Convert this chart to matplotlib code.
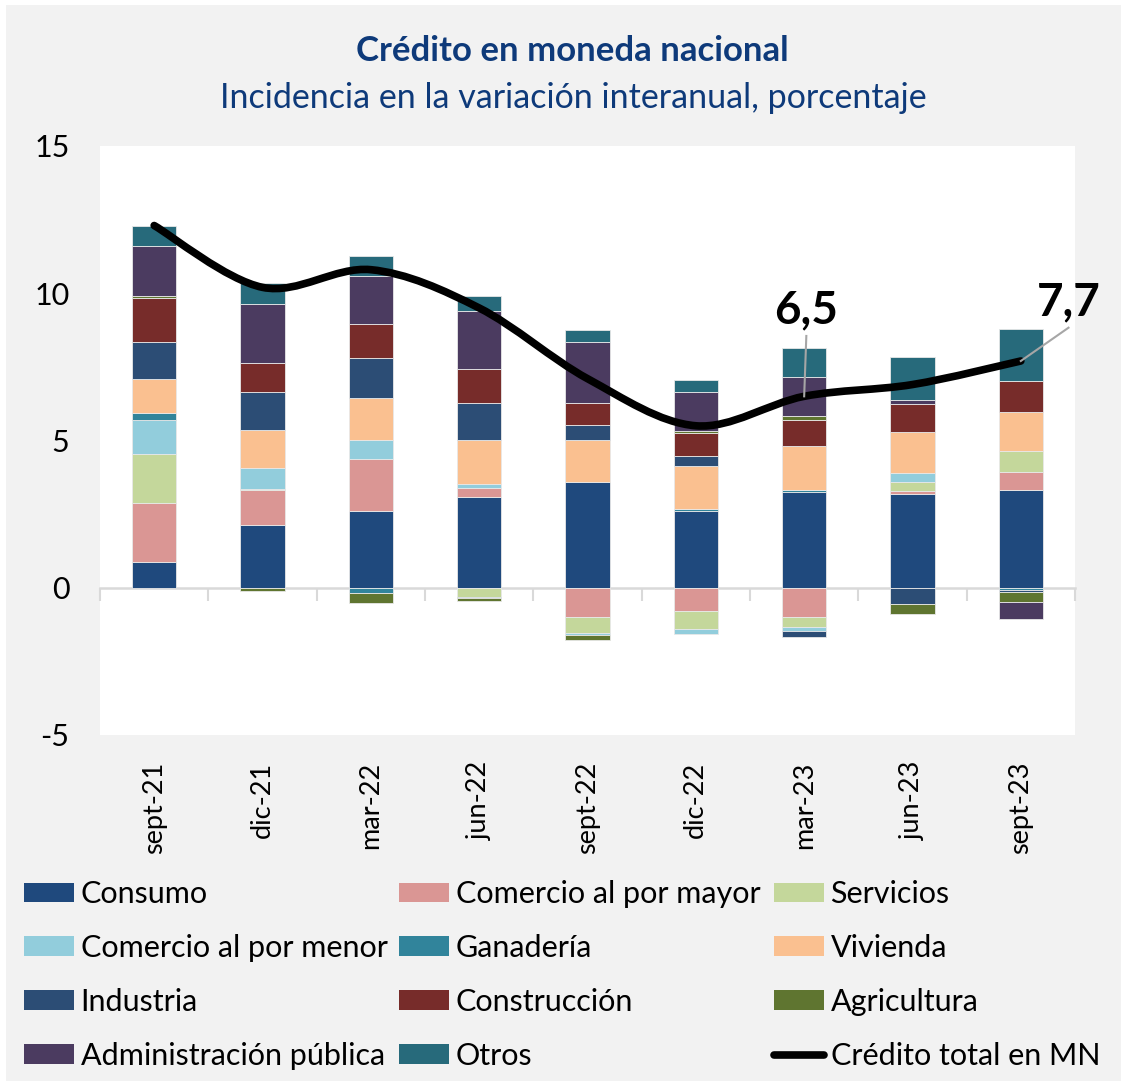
import numpy as np
import matplotlib
matplotlib.use('Agg')
import matplotlib.pyplot as plt
from matplotlib.path import Path
from matplotlib.patches import PathPatch, Rectangle, Patch
from matplotlib.lines import Line2D

plt.rcParams['font.family'] = ['Lato', 'DejaVu Sans']

# Fechas y series (incidencia, puntos porcentuales)
fechas = ['sept-21', 'dic-21', 'mar-22', 'jun-22', 'sept-22', 'dic-22', 'mar-23', 'jun-23', 'sept-23']

consumo = [0.89, 2.14, 2.61, 3.07, 3.58, 2.61, 3.24, 3.17, 3.33]
comercio_mayor = [2.00, 1.18, 1.75, 0.33, -0.98, -0.79, -1.00, 0.10, 0.59]
servicios = [1.64, 0.05, 0.00, -0.32, -0.54, -0.60, -0.33, 0.32, 0.72]
comercio_menor = [1.15, 0.71, 0.65, 0.12, -0.08, -0.17, -0.15, 0.29, 0.00]
ganaderia = [0.24, 0.00, -0.17, -0.03, 0.00, 0.07, 0.08, 0.00, -0.08]
vivienda = [1.16, 1.28, 1.42, 1.51, 1.43, 1.46, 1.48, 1.42, 1.33]
industria = [1.25, 1.29, 1.37, 1.26, 0.51, 0.32, -0.20, -0.54, -0.05]
construccion = [1.52, 0.99, 1.17, 1.13, 0.74, 0.81, 0.91, 0.94, 1.06]
agricultura = [0.06, -0.10, -0.36, -0.10, -0.18, 0.06, 0.12, -0.36, -0.36]
adm_publica = [1.68, 1.98, 1.61, 1.98, 2.08, 1.30, 1.33, 0.14, -0.57]
otros = [0.70, 0.72, 0.70, 0.52, 0.42, 0.43, 0.98, 1.47, 1.75]
credito_total = [12.3, 10.2, 10.8, 9.5, 7.1, 5.5, 6.5, 6.9, 7.7]

series = [
    ('Consumo', consumo, '#1f497d'),
    ('Comercio al por mayor', comercio_mayor, '#da9694'),
    ('Servicios', servicios, '#c4d79b'),
    ('Comercio al por menor', comercio_menor, '#92cddc'),
    ('Ganadería', ganaderia, '#31849b'),
    ('Vivienda', vivienda, '#fac090'),
    ('Industria', industria, '#2c4d75'),
    ('Construcción', construccion, '#772c2a'),
    ('Agricultura', agricultura, '#5f7530'),
    ('Administración pública', adm_publica, '#4b3b60'),
    ('Otros', otros, '#276a7b'),
]

W, H = 1127, 1081
fig = plt.figure(figsize=(W / 100, H / 100), dpi=100, facecolor='white')
fig.patches.append(Rectangle((6 / W, 0), 1 - 12 / W, 1 - 5 / H, transform=fig.transFigure,
                             facecolor='#f2f2f2', edgecolor='none', zorder=-10))

ax = fig.add_axes([100 / W, 1 - 735 / H, 975 / W, 589 / H])
ax.set_facecolor('white')

x = np.arange(len(fechas))
pos_bottom = np.zeros(len(fechas))
neg_bottom = np.zeros(len(fechas))
handles = {}
for name, vals, color in series:
    v = np.array(vals)
    bottom = np.where(v >= 0, pos_bottom, neg_bottom)
    keep = v != 0
    ax.bar(x[keep], v[keep], bottom=bottom[keep], width=0.41, color=color,
           edgecolor='#e8e8e8', linewidth=0.6, zorder=2)
    pos_bottom += np.clip(v, 0, None)
    neg_bottom += np.clip(v, None, 0)
    handles[name] = Patch(facecolor=color, edgecolor='none')

# smoothed line (Excel style): Catmull-Rom as cubic Bezier
yt = np.array(credito_total, dtype=float)
pts = np.column_stack([x, yt])
ext = np.vstack([pts[0], pts, pts[-1]])
verts = [tuple(pts[0])]
codes = [Path.MOVETO]
for i in range(len(pts) - 1):
    p0, p1, p2, p3 = ext[i], ext[i + 1], ext[i + 2], ext[i + 3]
    c1 = p1 + (p2 - p0) / 6
    c2 = p2 - (p3 - p1) / 6
    verts += [tuple(c1), tuple(c2), tuple(p2)]
    codes += [Path.CURVE4] * 3
ax.add_patch(PathPatch(Path(verts, codes), facecolor='none', edgecolor='black',
                       linewidth=5.5, capstyle='round', zorder=4))
handles['Crédito total en MN'] = Line2D([], [], color='black', linewidth=5.5, solid_capstyle='round')

# labels for the last two points
for i, dx, dy in [(6, 0.02, 2.05), (8, 0.44, 1.13)]:
    ax.plot([x[i], x[i] + dx], [yt[i], yt[i] + dy], color='#a6a6a6', lw=1.5, zorder=5, clip_on=False)
    ax.text(x[i] + dx, yt[i] + dy + 0.15, f'{yt[i]:.1f}'.replace('.', ','), ha='center', va='bottom',
            fontsize=33, fontweight='bold', color='black', zorder=6, clip_on=False)

ax.set_xlim(-0.5, len(fechas) - 0.5)
ax.set_ylim(-5, 15)
ax.set_yticks([-5, 0, 5, 10, 15])
ax.set_yticklabels(['-5', '0', '5', '10', '15'])
ax.tick_params(axis='y', length=0, pad=22, labelsize=22)
ax.set_xticks(x)
ax.set_xticklabels(fechas, rotation=90, fontsize=19.5)
ax.tick_params(axis='x', length=0, pad=19)
for s in ax.spines.values():
    s.set_visible(False)

# zero axis with tick marks between categories
sec = ax.secondary_xaxis(0.25)
sec.set_xticks(np.arange(-0.5, len(fechas), 1.0))
sec.set_xticklabels([])
sec.tick_params(axis='x', direction='out', length=9, width=1.5, color='#d9d9d9')
sec.spines['bottom'].set_color('#d9d9d9')
sec.spines['bottom'].set_linewidth(1.8)

navy = '#0e3a7a'
fig.text(572 / W, 1 - 51 / H, 'Crédito en moneda nacional', ha='center', va='center',
         fontsize=25, fontweight='bold', color=navy)
fig.text(573 / W, 1 - 98 / H, 'Incidencia en la variación interanual, porcentaje', ha='center', va='center',
         fontsize=24.5, color=navy)

# legend: three fixed columns, filled by rows
order = [name for name, _, _ in series] + ['Crédito total en MN']
col_x = [24, 399, 774]
for c in range(3):
    names = order[c::3]
    leg = fig.legend([handles[n] for n in names], names, loc='upper left',
                     bbox_to_anchor=(col_x[c] / W, 1 - 880 / H), frameon=False,
                     fontsize=22, handlelength=1.65, handleheight=0.6, handletextpad=0.2,
                     labelspacing=0.85, borderpad=0, borderaxespad=0)

fig.savefig('out.png', dpi=100, facecolor=fig.get_facecolor())
